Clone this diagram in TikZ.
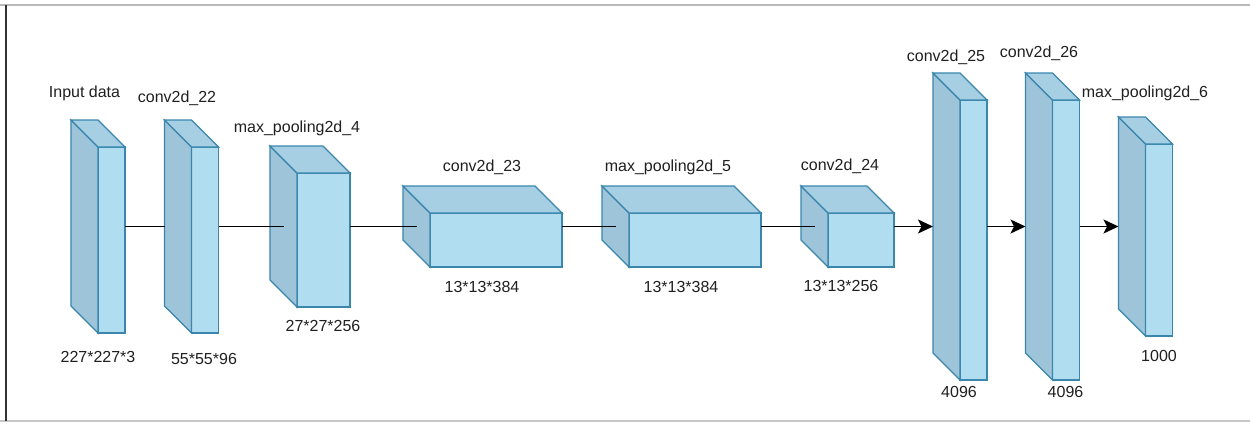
\documentclass[tikz,border=0pt]{standalone}
\usepackage{fontspec}
\setmainfont{Liberation Sans}
\usetikzlibrary{positioning,arrows.meta,calc}

\definecolor{frontblue}{HTML}{B1DDF0}
\definecolor{topblue}{HTML}{A6CFE3}
\definecolor{sideblue}{HTML}{9DC4D9}
\definecolor{edgeblue}{HTML}{3A86AC}

% #1 name, #2/#3 centre of the front face, #4 width, #5 height (depth is 27)
\newcommand{\cuboid}[5]{%
  \node[face, fill=frontblue, minimum width=#4, minimum height=#5] (#1) at (#2,#3) {};
  \draw[face, fill=sideblue] (#1.north west) -- ++(-27,-27)
      -- ($(#1.south west)+(-27,-27)$) -- (#1.south west) -- cycle;
  \draw[face, fill=topblue] (#1.north west) -- ++(-27,-27)
      -- ($(#1.north east)+(-27,-27)$) -- (#1.north east) -- cycle;
  \coordinate (#1-out)  at ($(#1.east)+(0,-13.5)$);
  \coordinate (#1-side) at ($(#1.west)+(-13.5,-13.5)$);
  \coordinate (#1-back) at ($(#1.west)+(-27,-13.5)$);
}

\begin{document}
\begin{tikzpicture}[x=1pt, y=-1pt,
  face/.style={draw=edgeblue, line width=1.3pt, inner sep=0pt, outer sep=0pt},
  tag/.style={text=black!88, font=\fontsize{16}{19}\selectfont, inner sep=0pt},
  link/.style={draw=black, line width=1.4pt},
  flow/.style={link, -{Stealth[length=15pt, width=14pt, inset=3.5pt]}}]

  \useasboundingbox (0,0) rectangle (1250,423);
  % frame
  \draw[gray!55, line width=1.3pt] (0,5) -- (1250,5);
  \draw[gray!45, line width=1.3pt] (0,421) -- (1250,421);
  \draw[black!80, line width=2pt] (6,5) -- (6,421);

  % layers
  \cuboid{inp}{111.5}{240}{27}{186}
  \cuboid{cvA}{205}{240}{27}{186}
  \cuboid{mpA}{323.5}{240}{53}{134}
  \cuboid{cvB}{496}{240}{132}{54}
  \cuboid{mpB}{695}{240}{132}{54}
  \cuboid{cvC}{861}{240}{66}{54}
  \cuboid{cvD}{973.5}{240}{27}{280}
  \cuboid{cvE}{1066}{240}{27}{280}
  \cuboid{mpC}{1159}{240}{27}{192}

  % connections
  \draw[link] (inp-out) -- (cvA-back);
  \draw[link] (cvA-out) -- (mpA-side);
  \draw[link] (mpA-out) -- (cvB-side);
  \draw[link] (cvB-out) -- (mpB-side);
  \draw[link] (mpB-out) -- (cvC-side);
  \draw[flow] (cvC-out) -- (cvD-back);
  \draw[flow] (cvD-out) -- (cvE-back);
  \draw[flow] (cvE-out) -- (mpC-back);

  % layer names
  \node[tag] (inp-name) at (84.5,93) {Input data};
  \node[tag] (cvA-name) at (177,98) {conv2d\_22};
  \node[tag] (mpA-name) at (297,128) {max\_pooling2d\_4};
  \node[tag] (cvB-name) at (482,167) {conv2d\_23};
  \node[tag] (mpB-name) at (668,167) {max\_pooling2d\_5};
  \node[tag] (cvC-name) at (840,166) {conv2d\_24};
  \node[tag] (cvD-name) at (946,57) {conv2d\_25};
  \node[tag] (cvE-name) at (1039,53) {conv2d\_26};
  \node[tag] (mpC-name) at (1145,93) {max\_pooling2d\_6};

  % output sizes
  \node[tag] (inp-size) at (98,357) {227*227*3};
  \node[tag] (cvA-size) at (204,359) {55*55*96};
  \node[tag] (mpA-size) at (323,326) {27*27*256};
  \node[tag] (cvB-size) at (482,287) {13*13*384};
  \node[tag] (mpB-size) at (681,287) {13*13*384};
  \node[tag] (cvC-size) at (841,286) {13*13*256};
  \node[tag] (cvD-size) at (959,392) {4096};
  \node[tag] (cvE-size) at (1065.5,392) {4096};
  \node[tag] (mpC-size) at (1159,356) {1000};
\end{tikzpicture}
\end{document}
